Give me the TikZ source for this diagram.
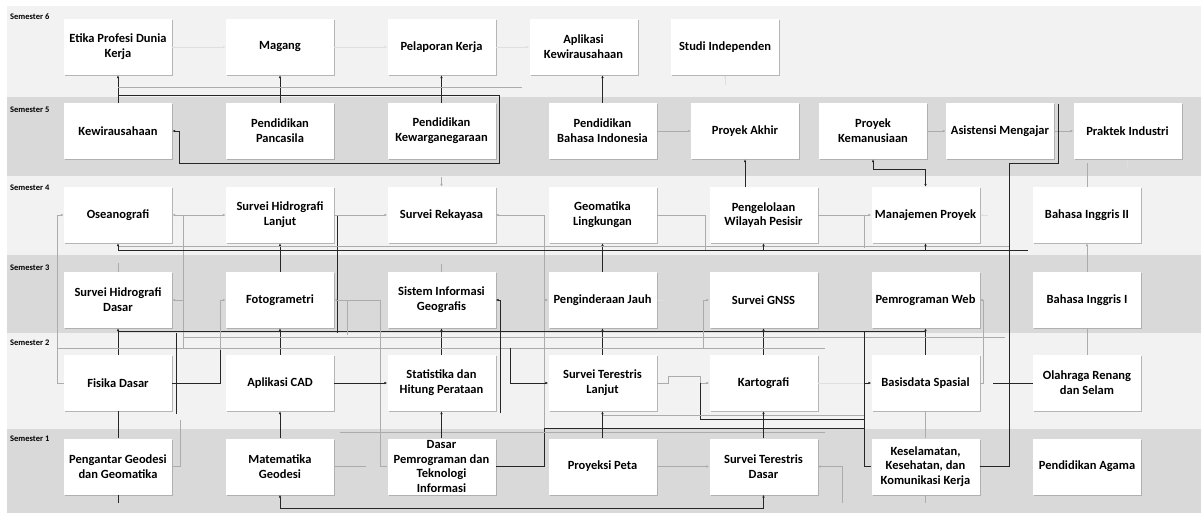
\documentclass[tikz,border=0pt]{standalone}
\usepackage{fontspec}
\setmainfont{Carlito}
\usetikzlibrary{arrows.meta,shadows}
\definecolor{bandlight}{HTML}{F2F2F2}
\definecolor{banddark}{HTML}{D9D9D9}
\newcommand\crsfont{\fontsize{12.5}{14.8}\selectfont\bfseries}
\newcommand\semfont{\fontsize{8.5}{10}\selectfont\bfseries}
\tikzset{
  course/.style={fill=white, minimum width=108pt, minimum height=56pt, inner sep=0pt,
    align=center, font=\crsfont,
    drop shadow={shadow xshift=1pt, shadow yshift=-1pt, fill=gray!70, opacity=0.8}},
  semlabel/.style={anchor=west, inner sep=0pt, font=\semfont},
  darkline/.style={draw=black!85, line width=0.9pt},
  grayline/.style={draw=gray!65, line width=0.7pt},
  faintline/.style={draw=gray!25, line width=0.6pt},
  arr/.style={-{Latex[length=3pt,width=2.6pt]}},
  arrboth/.style={{Latex[length=3pt,width=2.6pt]}-{Latex[length=3pt,width=2.6pt]}},
}
\begin{document}
\begin{tikzpicture}[x=1pt,y=-1pt]
\useasboundingbox (0,0) rectangle (1203,523);
% bands
\fill[bandlight] (7,6) rectangle (1201,97);
\fill[banddark] (7,97) rectangle (1201,176);
\fill[bandlight] (7,176) rectangle (1201,255);
\fill[banddark] (7,255) rectangle (1201,333);
\fill[bandlight] (7,333) rectangle (1201,429);
\fill[banddark] (7,429) rectangle (1201,513);
% semester labels
\node[semlabel] (s6) at (10,17) {Semester 6};
\node[semlabel] (s5) at (10,110) {Semester 5};
\node[semlabel] (s4) at (10,188) {Semester 4};
\node[semlabel] (s3) at (10,268) {Semester 3};
\node[semlabel] (s2) at (10,343) {Semester 2};
\node[semlabel] (s1) at (10,439) {Semester 1};
% semester 6
\node[course] (etika) at (118,47) {\fontsize{12.5}{12.5}\selectfont Etika Profesi Dunia\\Kerja};
\node[course] (magang) at (280,47) {Magang};
\node[course] (pelaporan) at (441.5,47) {Pelaporan Kerja};
\node[course] (aplikasi) at (583.5,47) {Aplikasi\\Kewirausahaan};
\node[course] (studi) at (725,47) {Studi Independen};
% semester 5
\node[course] (kewira) at (118,131) {Kewirausahaan};
\node[course] (pancasila) at (280,131) {Pendidikan\\Pancasila};
\node[course] (pkn) at (441.5,131) {Pendidikan\\Kewarganegaraan};
\node[course] (bindo) at (602.5,131) {Pendidikan\\Bahasa Indonesia};
\node[course] (akhir) at (745,131) {Proyek Akhir};
\node[course] (kemanusiaan) at (873,131) {Proyek\\Kemanusiaan};
\node[course] (asistensi) at (1000,131) {Asistensi Mengajar};
\node[course] (praktek) at (1127.5,131) {Praktek Industri};
% semester 4
\node[course] (oseano) at (118,215) {Oseanografi};
\node[course] (shl) at (280,215) {Survei Hidrografi\\Lanjut};
\node[course] (rekayasa) at (441.5,215) {Survei Rekayasa};
\node[course] (geoling) at (602.5,215) {Geomatika\\Lingkungan};
\node[course] (pesisir) at (763.5,215) {Pengelolaan\\Wilayah Pesisir};
\node[course] (manpro) at (925.5,215) {Manajemen Proyek};
\node[course] (bing2) at (1087,215) {Bahasa Inggris II};
% semester 3
\node[course] (shd) at (118,300) {Survei Hidrografi\\Dasar};
\node[course] (foto) at (280,300) {Fotogrametri};
\node[course] (sig) at (441.5,300) {Sistem Informasi\\Geografis};
\node[course] (inderaja) at (602.5,300) {Penginderaan Jauh};
\node[course] (gnss) at (763.5,300) {Survei GNSS};
\node[course] (web) at (925.5,300) {Pemrograman Web};
\node[course] (bing1) at (1087,300) {Bahasa Inggris I};
% semester 2
\node[course] (fisika) at (118,383) {Fisika Dasar};
\node[course] (cad) at (280,383) {Aplikasi CAD};
\node[course] (stat) at (441.5,383) {Statistika dan\\Hitung Perataan};
\node[course] (stl) at (602.5,383) {Survei Terestris\\Lanjut};
\node[course] (karto) at (763.5,383) {Kartografi};
\node[course] (basis) at (925.5,383) {Basisdata Spasial};
\node[course] (olahraga) at (1087,383) {Olahraga Renang\\dan Selam};
% semester 1
\node[course] (pgg) at (118,466.5) {Pengantar Geodesi\\dan Geomatika};
\node[course] (matgeo) at (280,466.5) {Matematika\\Geodesi};
\node[course] (dasprog) at (441.5,466.5) {\fontsize{12.5}{14.2}\selectfont Dasar\\Pemrograman dan\\Teknologi\\Informasi};
\node[course] (proyeksi) at (602.5,466.5) {Proyeksi Peta};
\node[course] (std) at (763.5,466.5) {Survei Terestris\\Dasar};
\node[course] (k3) at (925.5,466.5) {Keselamatan,\\Kesehatan, dan\\Komunikasi Kerja};
\node[course] (agama) at (1087,466.5) {Pendidikan Agama};

% ---- connectors semester 6/5
\draw[faintline,arr] (etika.east) -- (magang.west);
\draw[faintline,arr] (magang.east) -- (pelaporan.west);
\draw[faintline,arr] (pelaporan.east) -- (aplikasi.west);
\draw[darkline,arr] (kewira.north) -- (etika.south);
\draw[darkline,arr] (pancasila.north) -- (magang.south);
\draw[darkline,arr] (pkn.north) -- (pelaporan.south);
\draw[darkline,arr] (kewira.north |- 0,95) -- (499,95) |- (179,163) |- (kewira.east);
\draw[grayline] (etika.south |- 0,87) -- (522,87);
\draw[darkline,arr] (bindo.north) -- (bindo.north |- aplikasi.south);
\draw[grayline,arr] (bindo.east) -- (akhir.west);
\draw[faintline,arr] (studi.south) ++(0,10) -- (studi.south);
\draw[grayline,arr] (kemanusiaan.east) -- (asistensi.west);
\draw[grayline,arr] (asistensi.east) -- (praktek.west);
\draw[darkline,arr] (akhir.south |- pesisir.north) -- (akhir.south);
\draw[darkline,arrboth] (manpro.north) -- ++(0,-17) -| (kemanusiaan.south);
\draw[darkline] (k3.east) -- (1009,466.5) |- (1058,163) -- (1058,104);
\draw[grayline] (bing2.north) -- ++(0,-24);
\draw[faintline,arr] (praktek.south) ++(0,8) -- (praktek.south);
\draw[grayline,arr] (pkn.south |- 0,177) -- (rekayasa.north);

% ---- semester 4
\draw[grayline,arr] (fisika.west) -- (57,383) |- (oseano.west);
\draw[grayline] (183,348) -- (183,215);
\draw[grayline,arr] (183,215) -- (oseano.east);
\draw[grayline,arr] (183,215) -- (shl.west);
\draw[grayline,arr] (183,300) -- (shd.east);
\draw[darkline,arr] (foto.north) -- (shl.south);
\draw[darkline] (337,333) -- (337,215);
\draw[grayline,arr] (shl.east) -- (rekayasa.west);
\draw[darkline] (dasprog.east) -- (544,466.5) -- (544,428) -- (864,428);
\draw[grayline,arr] (544,428) -- (544,215) -- (rekayasa.east);
\draw[grayline,arr] (544,300) -- (inderaja.west);
\draw[grayline] (geoling.east) -- (705,215) -- (705,250);
\draw[darkline,arr] (inderaja.north) -- (geoling.south);
\draw[darkline] (118,250) -- (1028,250);
\draw[grayline] (118,246) -- (1009,246);
\draw[darkline,arr] (oseano.south |- 0,250) -- (oseano.south);
\draw[darkline,arr] (pesisir.south |- 0,250) -- (pesisir.south);
\draw[darkline,arr] (manpro.south |- 0,250) -- (manpro.south);
\draw[grayline] (shd.north) -- ++(0,-9);
\draw[grayline] (sig.north) -- ++(0,-8);
\draw[grayline,arr] (pesisir.east) -- (manpro.west);
\draw[grayline] (864,215) -- (864,248);
\draw[faintline,arr] (manpro.east) ++(8,0) -- (manpro.east);
\draw[grayline,arr] (bing1.north) -- (bing2.south);

% ---- semester 3
\draw[darkline,arr] (fisika.north) -- (shd.south);
\draw[darkline,arr] (cad.north) -- (foto.south);
\draw[darkline,arr] (stat.north) -- (sig.south);
\draw[darkline,arr] (stl.north) -- (inderaja.south);
\draw[darkline,arr] (karto.north) -- (gnss.south);
\draw[darkline,arr] (basis.north) -- (web.south);
\draw[darkline] (118,331) -- (925.5,331);
\draw[grayline] (183,337) -- (1005,337);
\draw[grayline] (57,348) -- (825,348);
\draw[grayline,arr] (fisika.east) -- (220,383) |- (foto.west);
\draw[darkline] (fisika.east) -- (220,383) -- (220,350);
\draw[darkline] (176,333) -- (176,414);
\draw[grayline] (pgg.east) -| (180,420);
\draw[grayline,arr] (dasprog.west) -| (380,300) -- (foto.east);
\draw[grayline] (347,300) -- (347,335);
\draw[darkline,arr] (500,413) -- (500,300) -- (sig.east);
\draw[grayline,arr] (703,348) -- (703,300) -- (gnss.west);
\draw[faintline,arr] (inderaja.east) ++(8,0) -- (inderaja.east);
\draw[grayline,arr] (basis.east) -- (983,383) -- (983,300) -- (web.east);
\draw[grayline] (bing1.south) -- (olahraga.north);

% ---- semester 2
\draw[darkline,arr] (cad.east) -- (stat.west);
\draw[darkline,arr] (510,348) -- (510,383) -- (stl.west);
\draw[grayline,arr] (stl.east) -- (668,383) |- (700,376) |- (karto.west);
\draw[darkline] (700,383) -- (700,419) -- (864,419);
\draw[faintline] (karto.east) -- (basis.west);
\draw[darkline] (864,331) -- (864,466.5) -- (k3.west);
\draw[darkline,arr] (864,383) -- (basis.west);
\draw[darkline] (993,383) -- (olahraga.west);
\draw[grayline] (basis.south) -- (k3.north);
\draw[grayline] (340,432) -- (825,432);
\draw[grayline] (603,415) -- (864,415);

% ---- semester 1
\draw[darkline] (pgg.north) -- (fisika.south);
\draw[darkline] (pgg.south) -- ++(0,8);
\draw[darkline,arr] (matgeo.north) -- (cad.south);
\draw[darkline,arrboth] (matgeo.south) -- (280,508) -| (std.south);
\draw[grayline] (matgeo.east) -- ++(32,0);
\draw[darkline,arr] (dasprog.north) -- (stat.south);
\draw[darkline,arr] (proyeksi.north) -- (stl.south);
\draw[darkline,arr] (std.north) -- (karto.south);
\draw[grayline,arr] (proyeksi.east) -- (std.west);
\draw[grayline,arr] (842,503) -- (842,466.5) -- (std.east);
\draw[grayline] (k3.south) -- ++(0,8);
\end{tikzpicture}
\end{document}
